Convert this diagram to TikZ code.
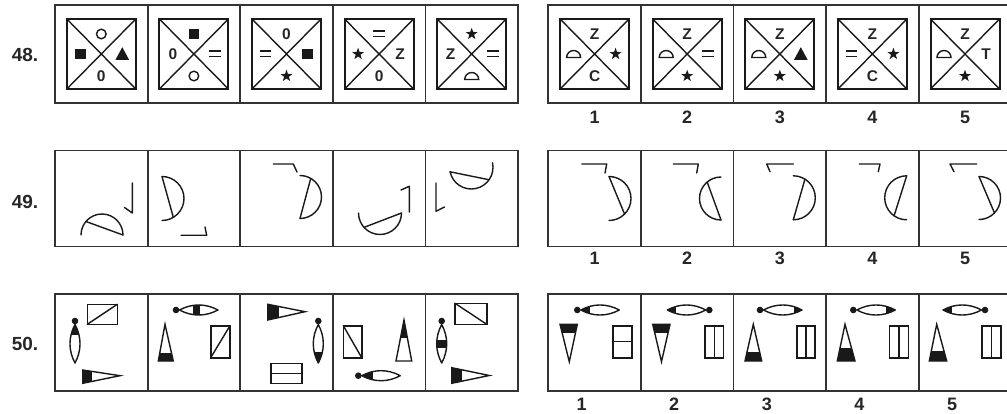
\documentclass[tikz,border=0pt]{standalone}
\usepackage{fontspec}
\setmainfont{Liberation Sans}
\tikzset{
 box/.style={line width=1.8pt, draw=black!80},
 insq/.style={line width=2pt, draw=black!90},
 diagl/.style={line width=1.4pt, draw=black!90},
 sym/.style={line width=1.4pt, draw=black!90},
 fig/.style={line width=1.4pt, draw=black!90, line cap=round, line join=round},
 rect/.style={line width=1.6pt, draw=black!90},
 txt/.style={font=\bfseries\fontsize{15.5}{15.5}\selectfont, inner sep=0pt, text=black!85},
 lab/.style={font=\bfseries\fontsize{19}{19}\selectfont, inner sep=0pt, text=black!85},
 num/.style={font=\bfseries\fontsize{18}{18}\selectfont, inner sep=0pt, text=black!85},
}
\newcount\symc
\newcommand\sTxt[1]{\global\advance\symc by 1\relax\node[txt] (sym\the\symc) at (0,0) {#1};}
\newcommand\sO{\draw[sym] (0,0) circle (4.8);}
\newcommand\sSq{\fill[black!90] (-5.3,-5.3) rectangle (5.3,5.3);}
\newcommand\sTri{\fill[black!90] (-6.8,-5.8) -- (6.8,-5.8) -- (0,6.8) -- cycle;}
\newcommand\sStar{\fill[black!90] (90:6.3) -- (126:2.5) -- (162:6.3) -- (198:2.5) -- (234:6.3) -- (270:2.5) -- (306:6.3) -- (342:2.5) -- (18:6.3) -- (54:2.5) -- cycle;}
\newcommand\sEq{\fill[black!90] (-5.8,1.6) rectangle (5.8,3.5); \fill[black!90] (-5.8,-1.6) rectangle (5.8,-3.5);}
\newcommand\sDome{\draw[sym] (-7,-3.5) -- (7,-3.5) arc[start angle=0, end angle=180, radius=7] -- cycle;}
\newcommand\qcell[5]{%
 \begin{scope}[shift={(#1,-54)}]
  \draw[insq] (-34.5,-35) rectangle (34.5,35);
  \draw[diagl] (-34.5,-35) -- (34.5,35) (-34.5,35) -- (34.5,-35);
  \begin{scope}[shift={(0,20)}]#2\end{scope}
  \begin{scope}[shift={(-21,0)}]#3\end{scope}
  \begin{scope}[shift={(21,0)}]#4\end{scope}
  \begin{scope}[shift={(0,-22)}]#5\end{scope}
 \end{scope}}
% half disc: cx cy r start delta chord1 chord2
\newcommand\hdisc[7]{%
 \begin{scope}[shift={(#1,-#2)}]
  \draw[fig] (#4:#3) arc[start angle=#4, delta angle=#5, radius=#3];
  \draw[fig] (#6:#3) -- (#7:#3);
 \end{scope}}
\newcommand\hookfig[6]{\draw[fig] (#1,-#2) -- (#3,-#4) -- (#5,-#6);}
% key: x y angle blackfrom blackto
\newcommand\lenspath{(3.5,0) .. controls (16,6.7) and (29.5,6.7) .. (42,0) .. controls (29.5,-6.7) and (16,-6.7) .. (3.5,0) -- cycle}
\newcommand\keyfig[5]{%
 \begin{scope}[shift={(#1,-#2)}, rotate=#3]
  \fill[black!90] (0,0) circle (3.3);
  \begin{scope}
   \clip \lenspath;
   \fill[black!90] (#4,-8) rectangle (#5,8);
  \end{scope}
  \draw[fig] \lenspath;
 \end{scope}}
\newcommand\trifig[7]{%
 \begin{scope}\clip (#1,-#2) -- (#3,-#4) -- (#5,-#6) -- cycle; \fill[black!90] #7; \end{scope}
 \draw[fig, line join=miter] (#1,-#2) -- (#3,-#4) -- (#5,-#6) -- cycle;}
\begin{document}
\begin{tikzpicture}[x=1pt,y=1pt]
\useasboundingbox (0,0) rectangle (1007,-414);
\clip (0,0) rectangle (1007,-414);
% boxes
\foreach \yt/\yb in {5/103, 150.5/246.5, 294/391}{
  \foreach \x in {55, 548.3}{
    \draw[box] (\x,-\yt) rectangle (\x+463,-\yb);
    \foreach \k in {1,2,3,4}{ \draw[box] (\x+92.6*\k,-\yt) -- (\x+92.6*\k,-\yb); }
  }
}
% labels
\node[lab] (l48) at (25,-55) {48.};
\node[lab] (l49) at (25,-202) {49.};
\node[lab] (l50) at (25,-344) {50.};
\foreach \i/\x in {1/594.6, 2/687.2, 3/779.8, 4/872.4, 5/965}{
  \node[num] (na\i) at (\x,-117) {\i};
  \node[num] (nb\i) at (\x,-258) {\i};
  \node[num] (nc\i) at (\x-13,-404) {\i};
}
% ---------- row 48 ----------
\qcell{101.3}{\sO}{\sSq}{\sTri}{\sTxt{0}}
\qcell{193.9}{\sSq}{\sTxt{0}}{\sEq}{\sO}
\qcell{286.5}{\sTxt{0}}{\sEq}{\sSq}{\sStar}
\qcell{379.1}{\sEq}{\sStar}{\sTxt{Z}}{\sTxt{0}}
\qcell{471.7}{\sStar}{\sTxt{Z}}{\sEq}{\sDome}
\qcell{594.6}{\sTxt{Z}}{\sDome}{\sStar}{\sTxt{C}}
\qcell{687.2}{\sTxt{Z}}{\sDome}{\sEq}{\sStar}
\qcell{779.8}{\sTxt{Z}}{\sDome}{\sTri}{\sStar}
\qcell{872.4}{\sTxt{Z}}{\sEq}{\sStar}{\sTxt{C}}
\qcell{965}{\sTxt{Z}}{\sDome}{\sTxt{T}}{\sStar}
% ---------- row 49 ----------
\hdisc{102}{235}{21}{0}{180}{0}{140}
\hookfig{132.3}{183}{132.3}{213}{124.5}{207.5}
\hdisc{162}{198.5}{22}{90}{-180}{90}{-59}
\hookfig{181}{235.3}{206.7}{235.3}{205}{227}
\hdisc{300}{197}{21.5}{-90}{180}{-90}{60}
\hookfig{273.3}{164}{293.3}{164}{297}{172}
\hdisc{380}{213}{21.5}{180}{180}{0}{222}
\hookfig{401}{190}{409.3}{186.3}{409.3}{212}
\hdisc{471.3}{167.3}{21.7}{192}{180}{192}{325}
\hookfig{436}{183}{436}{211.3}{444.5}{207}
\hdisc{609}{198.5}{22}{90}{-180}{90}{-45}
\hookfig{581.7}{164}{606.7}{164}{605}{173}
\hdisc{721}{198.5}{21.5}{90}{180}{270}{130}
\hookfig{673.3}{164}{698.3}{164}{696.7}{173}
\hdisc{793.3}{197.8}{22}{-90}{180}{-90}{58}
\hookfig{770}{171.7}{766.7}{164}{793.3}{164}
\hdisc{906.7}{197.8}{22}{90}{180}{90}{235}
\hookfig{859.3}{164}{880}{164}{878.3}{171.7}
\hdisc{979}{198}{21.5}{90}{-180}{90}{-44}
\hookfig{954}{171.7}{950}{164}{976.7}{164}
% ---------- row 50 ----------
% cell 1
\draw[rect] (87.3,-304.3) rectangle (117.3,-324.3); \draw[fig] (87.3,-324.3) -- (117.3,-304.3);
\keyfig{75}{321}{-90}{4}{14}
\trifig{82.7}{370}{82.7}{383.3}{120}{375.7}{(80,-365) rectangle (92,-390)}
% cell 2
\keyfig{176}{310}{0}{17}{24}
\trifig{165}{324.3}{158.3}{361}{173.3}{361}{(150,-353) rectangle (180,-365)}
\draw[rect] (210.7,-325.7) rectangle (230,-357.7); \draw[fig] (210.7,-357.7) -- (230,-325.7);
% cell 3
\trifig{267.7}{304.3}{267.7}{320}{305}{311.7}{(260,-300) rectangle (279,-325)}
\keyfig{318.3}{321}{-90}{31}{44}
\draw[rect] (270.7,-363.3) rectangle (301.7,-383.3); \draw[fig] (270.7,-373.3) -- (301.7,-373.3);
% cell 4
\draw[rect] (343.3,-325.7) rectangle (361.7,-357.7); \draw[fig] (343.3,-325.7) -- (361.7,-357.7);
\trifig{404}{320}{396}{361}{411.7}{361}{(390,-315) rectangle (420,-338)}
\keyfig{358.3}{375.7}{0}{4}{15}
% cell 5
\draw[rect] (455,-303.3) rectangle (486.7,-324.3); \draw[fig] (455,-303.3) -- (486.7,-324.3);
\keyfig{441.7}{321}{-90}{19}{27}
\trifig{451.7}{367.7}{451.7}{383.3}{489.3}{375.5}{(445,-360) rectangle (462,-390)}
% answer 1
\keyfig{577.3}{310}{0}{4}{13}
\trifig{560}{324.3}{577.3}{324.3}{569.3}{361.7}{(555,-318) rectangle (582,-333)}
\draw[rect] (612.7,-325.7) rectangle (631.7,-357.7); \draw[fig] (612.7,-341.7) -- (631.7,-341.7);
% answer 2
\keyfig{709.3}{310}{180}{33}{42}
\trifig{652.7}{324.3}{670}{324.3}{661.5}{361.7}{(648,-318) rectangle (675,-333)}
\draw[rect] (705,-325.7) rectangle (723.3,-357.7); \draw[fig] (714.2,-325.7) -- (714.2,-357.7);
% answer 3
\keyfig{760}{310}{0}{34}{43}
\trifig{753.3}{324.3}{745}{361}{761.7}{361}{(740,-352) rectangle (766,-365)}
\draw[rect] (796.7,-325.7) rectangle (815,-357.7); \draw[fig] (805.9,-325.7) -- (805.9,-357.7);
% answer 4
\keyfig{853.3}{310}{0}{33}{42}
\trifig{845}{324.3}{837.3}{361}{855}{361}{(830,-348) rectangle (860,-365)}
\draw[rect] (889.3,-325.7) rectangle (908.3,-357.7); \draw[fig] (898.8,-325.7) -- (898.8,-357.7);
% answer 5
\keyfig{985}{310}{180}{33}{42}
\trifig{936.7}{324.3}{929.3}{361}{946.7}{361}{(924,-351) rectangle (952,-365)}
\draw[rect] (981.7,-325.7) rectangle (1000.7,-357.7); \draw[fig] (991.2,-325.7) -- (991.2,-357.7);
\end{tikzpicture}
\end{document}
